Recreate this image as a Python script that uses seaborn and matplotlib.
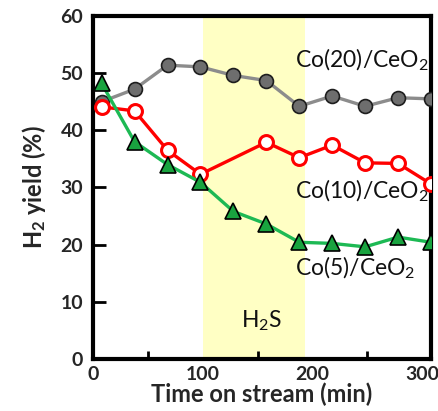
import matplotlib
matplotlib.use("Agg")
import matplotlib.pyplot as plt
from matplotlib.ticker import MultipleLocator
import seaborn as sns
import pandas as pd

# Time on stream (min) and H2 yield (%) for each catalyst
time_min = [8, 38, 68, 98, 128, 158, 188, 218, 248, 278, 308]
co20_yield = [45.0, 47.2, 51.4, 51.1, 49.6, 48.7, 44.2, 46.0, 44.2, 45.7, 45.5]
co10_time = [8, 38, 68, 98, 158, 188, 218, 248, 278, 308]
co10_yield = [44.1, 43.4, 36.5, 32.3, 37.9, 35.2, 37.4, 34.3, 34.2, 30.6]
co5_yield = [48.2, 38.0, 34.0, 30.9, 25.8, 23.6, 20.4, 20.2, 19.6, 21.3, 20.4]

# H2S feeding window (min)
h2s_start, h2s_end = 100, 193

sns.set_theme(style="white")
plt.rcParams["font.family"] = ["Lato", "DejaVu Sans"]
plt.rcParams["mathtext.default"] = "regular"

fig = plt.figure(figsize=(4.38, 4.11), dpi=100)
ax = fig.add_axes([0.212, 0.127, 0.772, 0.834])

ax.axvspan(h2s_start, h2s_end, color="#FFFFC4", zorder=0, lw=0)

df20 = pd.DataFrame({"t": time_min, "y": co20_yield})
df10 = pd.DataFrame({"t": co10_time, "y": co10_yield})
df5 = pd.DataFrame({"t": time_min, "y": co5_yield})

sns.lineplot(data=df20, x="t", y="y", ax=ax, color="#8C8C8C", linewidth=2.4,
             marker="o", markersize=10, markerfacecolor="#6E6E6E",
             markeredgecolor="#1E1E1E", markeredgewidth=1.2, zorder=3)
sns.lineplot(data=df10, x="t", y="y", ax=ax, color="#FF0000", linewidth=2.4,
             marker="o", markersize=10, markerfacecolor="white",
             markeredgecolor="#FF0000", markeredgewidth=2.2, zorder=4)
sns.lineplot(data=df5, x="t", y="y", ax=ax, color="#1DB954", linewidth=2.4,
             marker="^", markersize=11, markerfacecolor="#19A33F",
             markeredgecolor="#000000", markeredgewidth=1.2, zorder=5)

ax.set_xlim(0, 308)
ax.set_ylim(0, 60)
ax.xaxis.set_major_locator(MultipleLocator(100))
ax.xaxis.set_minor_locator(MultipleLocator(50))
ax.yaxis.set_major_locator(MultipleLocator(10))

for s in ax.spines.values():
    s.set_visible(True)
    s.set_color("black")
    s.set_linewidth(3)

ax.tick_params(axis="x", which="major", direction="in", length=10, width=2,
               labelsize=14, pad=5, color="black")
ax.tick_params(axis="x", which="minor", direction="in", length=6, width=2,
               color="black", bottom=True)
ax.tick_params(axis="y", which="major", direction="in", length=9, width=2,
               labelsize=14, pad=7, left=True, color="black")
for lab in ax.get_xticklabels() + ax.get_yticklabels():
    lab.set_fontweight("bold")

ax.set_xlabel("Time on stream (min)", fontsize=17, fontweight="bold", labelpad=0)
ax.set_ylabel("H$_2$ yield (%)", fontsize=17, fontweight="bold", labelpad=9)

ann = dict(fontsize=16.5, va="center", ha="left", zorder=6, color="#111111")
ax.text(184, 52.3, "Co(20)/CeO$_2$", **ann)
ax.text(184, 29.4, "Co(10)/CeO$_2$", **ann)
ax.text(184, 15.9, "Co(5)/CeO$_2$", **ann)
ax.text(154, 6.6, "H$_2$S", fontsize=16.5, va="center", ha="center", zorder=6,
        color="#111111")

fig.savefig("out.png", dpi=100)
